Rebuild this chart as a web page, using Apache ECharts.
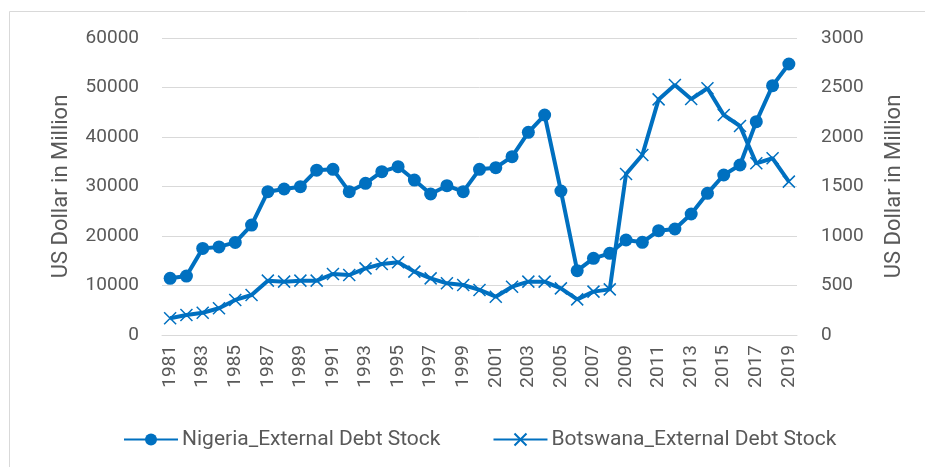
<!DOCTYPE html>
<html lang="en">
<head>
    <meta charset="UTF-8">
    <title>External Debt Stock</title>
    <script src="https://cdn.jsdelivr.net/npm/echarts@6/dist/echarts.min.js"></script>
    <style>
        html, body { margin: 0; padding: 0; background: #fff; }
    </style>
</head>
<body>
<div id="box" style="width: 925px;height:467px;"></div>
<script>
    var years = [];
    for (var y = 1981; y <= 2019; y++) years.push(String(y));

    var nigeria = [11450, 11900, 17500, 17800, 18700, 22200, 28950, 29500, 29960, 33300,
        33470, 28950, 30640, 33000, 34000, 31300, 28480, 30170, 28960, 33470,
        33800, 36030, 40940, 44440, 29090, 12990, 15490, 16500, 19190, 18720,
        21070, 21410, 24440, 28620, 32320, 34340, 43100, 50370, 54750];

    var botswana = [169, 202, 225, 270, 354, 404, 549, 539, 549, 549,
        616, 606, 673, 717, 735, 640, 572, 522, 505, 455,
        387, 488, 539, 539, 471, 360, 438, 461, 1626, 1818,
        2380, 2525, 2383, 2492, 2222, 2111, 1734, 1785, 1549];

    var leftName = 'US Dollar in Million';
    var rightName = 'US Dollar in Million';
    var blue = '#0070C0';
    var txt = '#595959';
    var font = 'Roboto';

    var myChart = echarts.init(document.getElementById('box'));
    var option = {
        animation: false,
        textStyle: { fontFamily: font },
        graphic: [{
            type: 'rect',
            shape: { x: 9.5, y: 11.5, width: 930, height: 470 },
            style: { fill: 'none', stroke: '#d9d9d9', lineWidth: 1 },
            silent: true
        }],
        legend: {
            top: 424,
            left: 118,
            itemGap: 52,
            itemWidth: 54,
            itemHeight: 15,
            textStyle: { fontSize: 21, color: txt, fontFamily: font, padding: [0, 0, 0, -1] },
            data: ['Nigeria_External Debt Stock', 'Botswana_External Debt Stock']
        },
        grid: { left: 162, right: 128, top: 38, bottom: 132 },
        xAxis: {
            type: 'category',
            data: years,
            boundaryGap: true,
            axisLine: { lineStyle: { color: '#d9d9d9', width: 1 } },
            axisTick: { show: false },
            axisLabel: {
                rotate: 90,
                interval: 1,
                fontSize: 19,
                color: txt,
                margin: 10
            }
        },
        yAxis: [{
            type: 'value',
            min: 0, max: 60000, interval: 10000,
            name: leftName,
            nameLocation: 'middle',
            nameGap: 90,
            nameTextStyle: { fontSize: 22, color: txt },
            axisLine: { show: false },
            axisTick: { show: false },
            axisLabel: { fontSize: 19, color: txt, margin: 23, formatter: function (v) { return String(v); } },
            splitLine: { lineStyle: { color: '#d9d9d9', width: 1 } }
        }, {
            type: 'value',
            min: 0, max: 3000, interval: 500,
            name: rightName,
            nameLocation: 'middle',
            nameGap: 86,
            nameRotate: 90,
            nameTextStyle: { fontSize: 22, color: txt },
            axisLine: { show: false },
            axisTick: { show: false },
            axisLabel: { fontSize: 19, color: txt, margin: 24, formatter: function (v) { return String(v); } },
            splitLine: { show: false }
        }],
        series: [{
            name: 'Nigeria_External Debt Stock',
            type: 'line',
            yAxisIndex: 0,
            data: nigeria,
            symbol: 'circle',
            symbolSize: 13,
            showAllSymbol: true,
            lineStyle: { color: blue, width: 4 },
            itemStyle: { color: blue }
        }, {
            name: 'Botswana_External Debt Stock',
            type: 'line',
            yAxisIndex: 1,
            data: botswana,
            symbol: 'path://M0 0L10 10M10 0L0 10',
            symbolSize: 12,
            showAllSymbol: true,
            lineStyle: { color: blue, width: 4 },
            itemStyle: { color: blue, borderColor: blue, borderWidth: 1.5 }
        }]
    };
    myChart.setOption(option);
</script>
</body>
</html>
